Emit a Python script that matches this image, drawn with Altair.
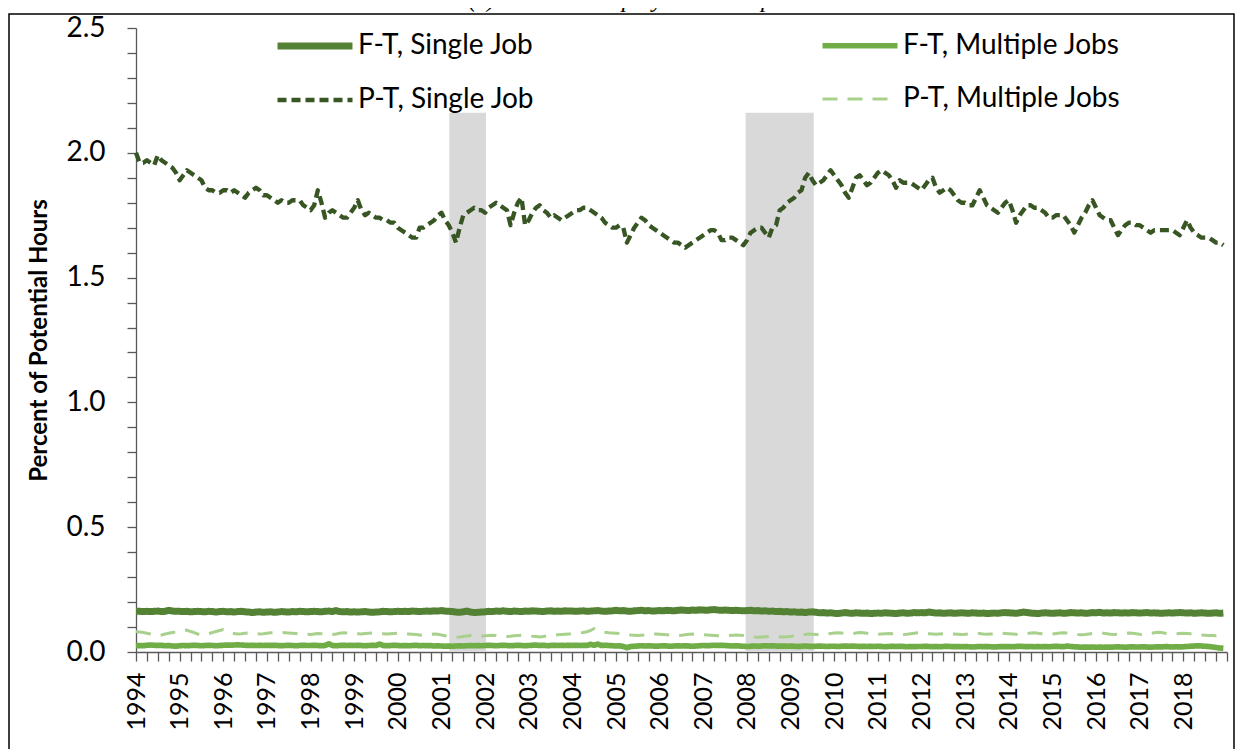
import altair as alt
import pandas as pd

# ---------------- data (monthly, Jan 1994 - Dec 2018) ----------------
series_names = ["F-T, Single Job", "F-T, Multiple Jobs", "P-T, Single Job", "P-T, Multiple Jobs"]
series_colors = ["#548235", "#70AD47", "#375623", "#A9D18E"]

ft_single = [
    .163, .163, .162, .163, .162, .163, .164, .162, .163, .167, .164, .163,
    .163, .162, .163, .161, .162, .163, .162, .161, .163, .162, .160, .162,
    .163, .161, .162, .160, .162, .163, .161, .160, .158, .160, .161, .159,
    .160, .161, .159, .160, .162, .161, .160, .162, .161, .163, .162, .161,
    .162, .163, .162, .161, .163, .164, .162, .166, .162, .161, .162, .160,
    .161, .160, .161, .162, .160, .159, .160, .161, .163, .162, .161, .162,
    .163, .162, .163, .162, .164, .163, .162, .163, .164, .163, .165, .164,
    .166, .164, .163, .162, .160, .159, .161, .164, .160, .158, .159, .160,
    .161, .163, .162, .164, .163, .165, .163, .162, .164, .163, .162, .164,
    .163, .165, .164, .163, .162, .164, .165, .163, .164, .163, .165, .164,
    .164, .163, .164, .165, .163, .164, .165, .166, .164, .163, .164, .165,
    .167, .165, .166, .164, .163, .165, .166, .167, .165, .166, .164, .165,
    .166, .165, .167, .166, .165, .167, .168, .167, .166, .168, .167, .169,
    .168, .167, .169, .170, .168, .167, .168, .167, .166, .167, .166, .165,
    .166, .167, .165, .166, .164, .165, .163, .164, .162, .163, .161, .162,
    .160, .161, .159, .160, .158, .160, .161, .159, .157, .158, .156, .157,
    .155, .154, .156, .158, .156, .155, .157, .156, .155, .156, .154, .155,
    .156, .155, .157, .156, .155, .154, .156, .157, .155, .156, .158, .157,
    .158, .157, .160, .158, .156, .157, .155, .156, .157, .155, .156, .157,
    .156, .155, .157, .156, .155, .156, .154, .155, .156, .155, .157, .158,
    .157, .156, .155, .157, .160, .158, .156, .155, .154, .156, .157, .156,
    .155, .156, .157, .155, .156, .158, .157, .156, .157, .155, .156, .158,
    .157, .159, .156, .157, .156, .158, .157, .156, .157, .156, .158, .157,
    .156, .157, .158, .156, .157, .156, .155, .156, .157, .156, .157, .158,
    .157, .156, .157, .155, .156, .157, .156, .155, .156, .157, .155, .156,
]

ft_multiple = [
    .025, .026, .025, .027, .028, .027, .026, .027, .025, .026, .024, .023,
    .025, .026, .025, .026, .027, .026, .025, .026, .027, .026, .025, .026,
    .027, .028, .027, .028, .029, .028, .027, .026, .027, .026, .027, .026,
    .027, .026, .027, .026, .025, .026, .027, .026, .025, .026, .027, .026,
    .026, .027, .026, .025, .026, .033, .026, .025, .026, .027, .026, .027,
    .026, .027, .026, .025, .026, .027, .026, .032, .026, .025, .026, .027,
    .026, .025, .026, .025, .026, .027, .025, .026, .025, .026, .024, .025,
    .024, .023, .024, .023, .024, .025, .024, .025, .026, .025, .026, .025,
    .026, .027, .026, .025, .026, .027, .026, .025, .026, .027, .026, .025,
    .026, .027, .028, .026, .027, .025, .026, .027, .026, .027, .026, .027,
    .026, .027, .026, .027, .026, .031, .027, .032, .026, .027, .026, .025,
    .024, .025, .022, .017, .022, .023, .024, .025, .024, .025, .024, .023,
    .024, .025, .024, .023, .024, .025, .024, .025, .024, .023, .024, .025,
    .026, .025, .026, .027, .026, .027, .026, .025, .024, .025, .024, .023,
    .022, .023, .024, .023, .024, .025, .024, .025, .024, .023, .024, .023,
    .024, .023, .022, .023, .024, .023, .022, .023, .024, .023, .022, .023,
    .023, .022, .023, .024, .023, .024, .023, .022, .023, .022, .023, .022,
    .023, .022, .021, .022, .023, .022, .023, .022, .021, .022, .021, .022,
    .022, .023, .022, .021, .022, .021, .022, .023, .022, .021, .022, .021,
    .022, .021, .020, .021, .022, .021, .022, .021, .020, .021, .022, .021,
    .022, .021, .022, .023, .022, .021, .022, .021, .022, .021, .022, .021,
    .022, .023, .022, .021, .024, .022, .021, .020, .019, .020, .019, .020,
    .019, .020, .019, .020, .019, .020, .021, .020, .019, .020, .021, .020,
    .020, .021, .020, .019, .020, .021, .020, .022, .021, .020, .021, .020,
    .021, .022, .023, .024, .025, .024, .023, .022, .020, .018, .016, .015,
]

pt_single = [
    2.00, 1.96, 1.96, 1.97, 1.96, 1.95, 1.99, 1.97, 1.96, 1.95, 1.94, 1.92,
    1.89, 1.91, 1.93, 1.92, 1.91, 1.90, 1.89, 1.86, 1.85, 1.85, 1.84, 1.84,
    1.85, 1.85, 1.84, 1.85, 1.84, 1.83, 1.82, 1.84, 1.85, 1.86, 1.85, 1.83,
    1.83, 1.82, 1.81, 1.80, 1.81, 1.80, 1.80, 1.81, 1.81, 1.81, 1.79, 1.78,
    1.77, 1.79, 1.85, 1.80, 1.74, 1.76, 1.77, 1.76, 1.75, 1.74, 1.74, 1.76,
    1.78, 1.81, 1.77, 1.75, 1.76, 1.75, 1.74, 1.74, 1.73, 1.73, 1.72, 1.72,
    1.70, 1.69, 1.68, 1.67, 1.66, 1.66, 1.70, 1.70, 1.71, 1.72, 1.73, 1.75,
    1.76, 1.73, 1.71, 1.68, 1.64, 1.70, 1.75, 1.76, 1.77, 1.78, 1.77, 1.77,
    1.76, 1.78, 1.79, 1.80, 1.79, 1.78, 1.77, 1.71, 1.76, 1.80, 1.82, 1.71,
    1.73, 1.76, 1.78, 1.79, 1.77, 1.76, 1.74, 1.75, 1.74, 1.73, 1.74, 1.75,
    1.76, 1.77, 1.77, 1.78, 1.78, 1.77, 1.76, 1.75, 1.74, 1.72, 1.71, 1.70,
    1.70, 1.71, 1.70, 1.64, 1.67, 1.70, 1.72, 1.74, 1.73, 1.71, 1.70, 1.69,
    1.68, 1.67, 1.66, 1.65, 1.64, 1.64, 1.63, 1.62, 1.63, 1.64, 1.65, 1.66,
    1.67, 1.68, 1.69, 1.69, 1.68, 1.65, 1.65, 1.66, 1.66, 1.65, 1.64, 1.63,
    1.65, 1.68, 1.69, 1.70, 1.70, 1.68, 1.66, 1.70, 1.71, 1.77, 1.78, 1.80,
    1.81, 1.82, 1.84, 1.85, 1.90, 1.92, 1.89, 1.87, 1.88, 1.89, 1.91, 1.93,
    1.91, 1.89, 1.87, 1.84, 1.82, 1.86, 1.90, 1.91, 1.89, 1.87, 1.88, 1.90,
    1.92, 1.93, 1.92, 1.91, 1.89, 1.86, 1.89, 1.88, 1.88, 1.88, 1.87, 1.86,
    1.85, 1.87, 1.89, 1.90, 1.86, 1.84, 1.85, 1.86, 1.85, 1.83, 1.81, 1.80,
    1.80, 1.79, 1.79, 1.82, 1.85, 1.82, 1.79, 1.78, 1.77, 1.76, 1.78, 1.80,
    1.81, 1.77, 1.72, 1.75, 1.77, 1.79, 1.79, 1.78, 1.78, 1.77, 1.76, 1.74,
    1.74, 1.75, 1.75, 1.75, 1.73, 1.71, 1.68, 1.71, 1.74, 1.76, 1.79, 1.81,
    1.78, 1.75, 1.74, 1.73, 1.73, 1.70, 1.67, 1.69, 1.71, 1.72, 1.72, 1.71,
    1.71, 1.70, 1.69, 1.68, 1.69, 1.69, 1.69, 1.69, 1.69, 1.69, 1.68, 1.67,
    1.70, 1.73, 1.70, 1.68, 1.67, 1.66, 1.66, 1.66, 1.65, 1.64, 1.64, 1.63,
]

pt_multiple = [
    .082, .080, .078, .075, .072, .068, .066, .068, .072, .075, .078, .080,
    .082, .085, .088, .082, .078, .072, .068, .070, .074, .078, .082, .086,
    .090, .085, .078, .074, .072, .073, .075, .076, .075, .074, .072, .073,
    .075, .077, .078, .079, .078, .077, .076, .075, .074, .073, .072, .071,
    .070, .072, .074, .073, .072, .071, .070, .072, .075, .077, .076, .075,
    .074, .073, .072, .074, .075, .076, .075, .074, .073, .072, .073, .074,
    .075, .074, .073, .072, .071, .070, .068, .066, .068, .070, .072, .071,
    .068, .065, .062, .060, .059, .060, .062, .064, .066, .066, .065, .064,
    .065, .066, .067, .066, .064, .063, .062, .063, .065, .066, .067, .066,
    .065, .063, .062, .060, .062, .065, .067, .068, .069, .070, .071, .072,
    .073, .074, .076, .078, .081, .086, .094, .088, .082, .079, .077, .076,
    .075, .074, .072, .070, .068, .067, .066, .067, .068, .070, .072, .072,
    .071, .070, .069, .068, .067, .066, .067, .069, .071, .072, .071, .070,
    .069, .068, .067, .066, .065, .064, .065, .066, .067, .068, .067, .066,
    .064, .062, .060, .059, .060, .061, .062, .063, .062, .061, .060, .061,
    .062, .064, .066, .068, .070, .072, .071, .070, .069, .070, .072, .074,
    .076, .077, .076, .074, .073, .074, .076, .078, .077, .075, .073, .072,
    .071, .072, .073, .074, .073, .072, .071, .070, .071, .073, .075, .077,
    .076, .074, .073, .072, .071, .072, .073, .074, .073, .072, .071, .070,
    .071, .073, .075, .076, .074, .072, .071, .072, .073, .074, .075, .074,
    .073, .072, .071, .070, .072, .074, .076, .077, .075, .073, .072, .071,
    .072, .074, .076, .077, .076, .074, .072, .070, .069, .070, .072, .074,
    .076, .077, .075, .073, .071, .070, .071, .073, .075, .076, .075, .073,
    .071, .070, .072, .074, .077, .079, .078, .075, .073, .072, .073, .074,
    .075, .074, .073, .071, .069, .068, .067, .066, .066, .065, .065, .064,
]

start_year = 1994
end_year = 2019
recession_start = [2001.18, 2007.97]
recession_end = [2002.02, 2009.53]
recession_top = 2.16

title_text = "(c) Detailed Employment Components"
y_title = "Percent of Potential Hours"

# ---------------- tables ----------------
rows = []
for name, vals in zip(series_names, [ft_single, ft_multiple, pt_single, pt_multiple]):
    for i, v in enumerate(vals):
        rows.append({"t": start_year + i / 12.0, "value": v, "series": name})
df = pd.DataFrame(rows)

bands = pd.DataFrame({"x1": recession_start, "x2": recession_end,
                      "top": [recession_top] * 2, "bottom": [0.0] * 2})

x_ticks = [start_year + q / 4.0 for q in range((end_year - start_year) * 4 + 1)]
y_ticks = [round(i * 0.1, 1) for i in range(26)]

W, H = 1091, 624
FONT = "Lato"
AXIS_GREY = "#595959"

x_scale = alt.Scale(domain=[start_year, end_year], nice=False, zero=False)
y_scale = alt.Scale(domain=[0, 2.5], nice=False, zero=True)

x_axis = alt.Axis(values=x_ticks,
                  labelExpr="(abs(datum.value - round(datum.value)) < 0.01 && datum.value < 2018.5) ? format(datum.value, 'd') : ''",
                  labelAngle=-90, labelAlign="right", labelBaseline="middle",
                  labelFontSize=25, labelFont=FONT, labelColor="black", labelPadding=11,
                  tickSize=9, tickColor=AXIS_GREY, domainColor=AXIS_GREY, domainWidth=1.3,
                  tickWidth=1.3, grid=False, title=None, labelOverlap=False, labelFlush=False)

y_axis = alt.Axis(values=y_ticks,
                  labelExpr="(abs(datum.value * 2 - round(datum.value * 2)) < 0.01) ? format(datum.value, '.1f') : ''",
                  labelFontSize=28, labelFont=FONT, labelColor="black", labelPadding=22,
                  tickSize=9, tickColor=AXIS_GREY, domainColor=AXIS_GREY, domainWidth=1.3,
                  tickWidth=1.3, grid=False, title=y_title, titleFont=FONT, titleFontSize=24,
                  titleFontWeight="bold", titleColor="black", titlePadding=14,
                  labelOverlap=False, labelFlush=False)

band_layer = alt.Chart(bands).mark_rect(color="#D9D9D9").encode(
    x=alt.X("x1:Q", scale=x_scale, axis=x_axis),
    x2="x2:Q",
    y=alt.Y("top:Q", scale=y_scale, axis=y_axis),
    y2="bottom:Q",
)

line_layer = alt.Chart(df).mark_line(strokeCap="butt", strokeJoin="round").encode(
    x=alt.X("t:Q", scale=x_scale, axis=x_axis),
    y=alt.Y("value:Q", scale=y_scale, axis=y_axis),
    color=alt.Color("series:N", scale=alt.Scale(domain=series_names, range=series_colors),
                    legend=alt.Legend(title=None, orient="none", legendX=138, legendY=-23,
                                      direction="horizontal", columns=2,
                                      columnPadding=276, rowPadding=-38,
                                      symbolType="stroke", symbolSize=5625,
                                      labelFont=FONT, labelFontSize=28, labelColor="black",
                                      labelOffset=2, labelLimit=500)),
    strokeDash=alt.StrokeDash("series:N", scale=alt.Scale(domain=series_names,
                              range=[[1, 0], [1, 0], [9, 5], [15, 10]]), legend=None),
    strokeWidth=alt.StrokeWidth("series:N", scale=alt.Scale(domain=series_names,
                                range=[7, 3, 3.5, 4]), legend=None),
    order=alt.Order("t:Q"),
)

frame = alt.Chart(pd.DataFrame({"k": [0]})).mark_rect(fill=None, stroke="black", strokeWidth=1.5).encode(
    x=alt.value(-127), x2=alt.value(W + 7), y=alt.value(-14), y2=alt.value(H + 200))

title = alt.Chart(pd.DataFrame({"txt": [title_text]})).mark_text(
    font="Liberation Serif", fontStyle="italic", fontSize=24, baseline="alphabetic", align="center", color="black"
).encode(text="txt:N", x=alt.value(516), y=alt.value(-21))

chart = alt.layer(band_layer, line_layer, frame, title).properties(
    width=W, height=H,
    autosize=alt.AutoSizeParams(type="none"),
    padding={"left": 128, "top": 20, "right": 8, "bottom": 97},
).configure_view(stroke=None)

chart.save("out.html", embed_options={"renderer": "svg", "actions": False})
